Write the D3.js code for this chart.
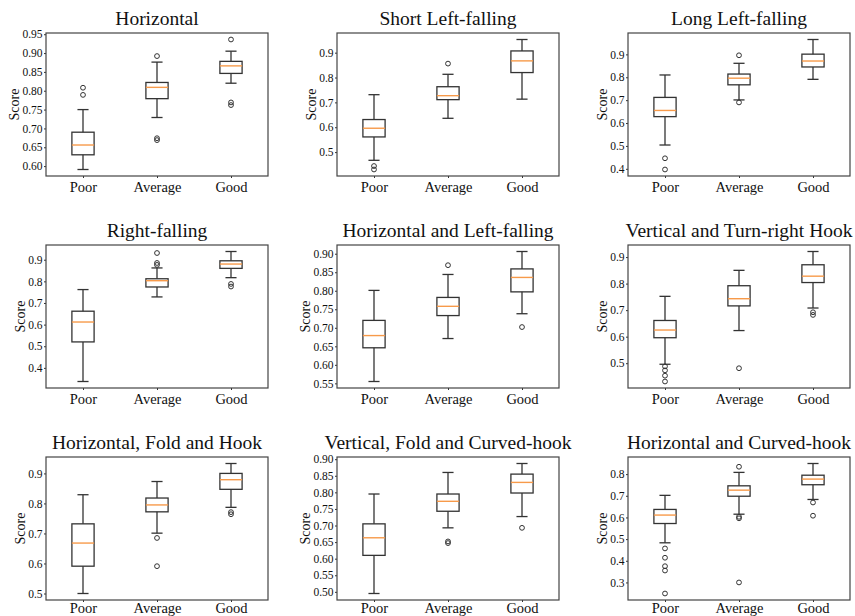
<!DOCTYPE html>
<html lang="en">
<head>
    <meta charset="UTF-8">
    <title>Stroke Score Boxplots</title>
    <script src="https://d3js.org/d3.v7.min.js"></script>
    <style>
        body { margin: 0; background: #fff; }
        svg text { font-family: "Liberation Serif", "Times New Roman", serif !important; fill: #111; }
    </style>
</head>
<body>
    <div id="chart"></div>

    <script>
        const categories = ["Poor", "Average", "Good"];

        const titles = [
            "Horizontal", "Short Left-falling", "Long Left-falling",
            "Right-falling", "Horizontal and Left-falling", "Vertical and Turn-right Hook",
            "Horizontal, Fold and Hook", "Vertical, Fold and Curved-hook", "Horizontal and Curved-hook"
        ];

        // one row per panel: [Poor, Average, Good]
        const whiskerHigh = [
            [0.750, 0.876, 0.905], [0.731, 0.813, 0.953], [0.810, 0.861, 0.965],
            [0.762, 0.862, 0.938], [0.801, 0.844, 0.906], [0.752, 0.850, 0.921],
            [0.829, 0.873, 0.933], [0.795, 0.860, 0.887], [0.702, 0.808, 0.849]
        ];
        const q3 = [
            [0.690, 0.822, 0.878], [0.631, 0.763, 0.907], [0.712, 0.814, 0.901],
            [0.662, 0.812, 0.895], [0.720, 0.782, 0.859], [0.661, 0.792, 0.871],
            [0.732, 0.818, 0.900], [0.705, 0.795, 0.855], [0.637, 0.746, 0.795]
        ];
        const median = [
            [0.656, 0.809, 0.866], [0.596, 0.727, 0.867], [0.655, 0.796, 0.871],
            [0.612, 0.803, 0.880], [0.679, 0.758, 0.836], [0.625, 0.743, 0.828],
            [0.668, 0.795, 0.879], [0.663, 0.773, 0.830], [0.611, 0.726, 0.777]
        ];
        const q1 = [
            [0.630, 0.779, 0.846], [0.561, 0.711, 0.820], [0.628, 0.767, 0.845],
            [0.520, 0.774, 0.860], [0.646, 0.733, 0.797], [0.596, 0.716, 0.804],
            [0.591, 0.772, 0.847], [0.610, 0.743, 0.798], [0.572, 0.698, 0.751]
        ];
        const whiskerLow = [
            [0.591, 0.729, 0.820], [0.467, 0.636, 0.713], [0.504, 0.701, 0.791],
            [0.337, 0.728, 0.817], [0.555, 0.671, 0.738], [0.496, 0.623, 0.708],
            [0.500, 0.701, 0.787], [0.495, 0.693, 0.727], [0.483, 0.615, 0.683]
        ];
        const outliers = [
            [[0.808, 0.789], [0.892, 0.674, 0.669], [0.936, 0.769, 0.762]],
            [[0.444, 0.430], [0.856], []],
            [[0.446, 0.397], [0.896, 0.690], []],
            [[], [0.931, 0.885, 0.876], [0.788, 0.776]],
            [[], [0.869], [0.702]],
            [[0.488, 0.473, 0.453, 0.431], [0.481], [0.692, 0.682]],
            [[], [0.685, 0.591], [0.771, 0.764]],
            [[], [0.652, 0.647], [0.693]],
            [[0.457, 0.414, 0.375, 0.355, 0.249], [0.834, 0.603, 0.596, 0.300], [0.669, 0.608]]
        ];

        const yTicks = [
            [0.60, 0.65, 0.70, 0.75, 0.80, 0.85, 0.90, 0.95],
            [0.5, 0.6, 0.7, 0.8, 0.9],
            [0.4, 0.5, 0.6, 0.7, 0.8, 0.9],
            [0.4, 0.5, 0.6, 0.7, 0.8, 0.9],
            [0.55, 0.60, 0.65, 0.70, 0.75, 0.80, 0.85, 0.90],
            [0.5, 0.6, 0.7, 0.8, 0.9],
            [0.5, 0.6, 0.7, 0.8, 0.9],
            [0.50, 0.55, 0.60, 0.65, 0.70, 0.75, 0.80, 0.85, 0.90],
            [0.3, 0.4, 0.5, 0.6, 0.7, 0.8]
        ];

        const serif = "'Liberation Serif', 'Times New Roman', serif";

        const svg = d3.select("#chart")
                      .append("svg")
                      .attr("width", 855)
                      .attr("height", 616)
                      .attr("font-family", serif);

        // panel frames
        const colX = [46, 337, 628];
        const rowY = [33, 245, 457];
        const width = 222;
        const height = 143;

        titles.forEach((title, p) => {
            const row = Math.floor(p / 3);
            const g = svg.append("g")
                         .attr("transform", `translate(${colX[p % 3]}, ${rowY[row]})`);

            // matplotlib-like 5% margin around all values
            const all = [...whiskerLow[p], ...whiskerHigh[p], ...outliers[p].flat()];
            const lo = d3.min(all), hi = d3.max(all);
            const pad = (hi - lo) * 0.05;

            const x = d3.scalePoint()
                        .domain(categories)
                        .range([0, width])
                        .padding(0.5);

            const y = d3.scaleLinear()
                        .domain([lo - pad, hi + pad])
                        .range([height, 0]);

            const boxW = x.step() * 0.3;
            const decimals = yTicks[p].some(t => Math.abs(t * 10 - Math.round(t * 10)) > 1e-6) ? 2 : 1;

            // y axis
            const yAxis = g.append("g")
                           .call(d3.axisLeft(y)
                                   .tickValues(yTicks[p])
                                   .tickFormat(d3.format(`.${decimals}f`))
                                   .tickSize(2)
                                   .tickPadding(1.5))
                           .attr("font-family", serif)
                           .attr("font-size", 11.5);
            yAxis.select(".domain").remove();
            yAxis.selectAll("line").attr("stroke", "#333");
            yAxis.selectAll("text").attr("fill", "#111");

            // x axis (bottom row sits a little tighter in the source image)
            const xAxis = g.append("g")
                           .attr("transform", `translate(0, ${height})`)
                           .call(d3.axisBottom(x)
                                   .tickSize(2)
                                   .tickPadding(row === 2 ? 0.5 : 3.5))
                           .attr("font-family", serif)
                           .attr("font-size", 14.5);
            xAxis.select(".domain").remove();
            xAxis.selectAll("line").attr("stroke", "#333");
            xAxis.selectAll("text").attr("fill", "#111");

            // frame
            g.append("rect")
             .attr("width", width)
             .attr("height", height)
             .attr("fill", "none")
             .attr("stroke", "#444")
             .attr("stroke-width", 1.2);

            // y label, placed left of tick labels
            const bb = yAxis.node().getBBox();
            g.append("text")
             .attr("transform", `translate(${bb.x - 3}, ${height / 2}) rotate(-90)`)
             .attr("text-anchor", "middle")
             .attr("font-size", 14)
             .text("Score");

            // title
            g.append("text")
             .attr("x", width / 2)
             .attr("y", -8)
             .attr("text-anchor", "middle")
             .attr("font-size", 19.5)
             .text(title);

            const boxes = g.selectAll(".box")
                           .data(categories.map((c, i) => ({
                               cat: c,
                               lo: whiskerLow[p][i],
                               q1: q1[p][i],
                               med: median[p][i],
                               q3: q3[p][i],
                               hi: whiskerHigh[p][i],
                               out: outliers[p][i]
                           })))
                           .enter()
                           .append("g")
                           .attr("class", "box")
                           .attr("transform", d => `translate(${x(d.cat)}, 0)`);

            // whiskers
            boxes.append("line")
                 .attr("y1", d => y(d.hi)).attr("y2", d => y(d.q3))
                 .attr("stroke", "#333").attr("stroke-width", 1.3);
            boxes.append("line")
                 .attr("y1", d => y(d.q1)).attr("y2", d => y(d.lo))
                 .attr("stroke", "#333").attr("stroke-width", 1.3);

            // caps
            boxes.append("line")
                 .attr("x1", -boxW / 4).attr("x2", boxW / 4)
                 .attr("y1", d => y(d.hi)).attr("y2", d => y(d.hi))
                 .attr("stroke", "#333").attr("stroke-width", 1.3);
            boxes.append("line")
                 .attr("x1", -boxW / 4).attr("x2", boxW / 4)
                 .attr("y1", d => y(d.lo)).attr("y2", d => y(d.lo))
                 .attr("stroke", "#333").attr("stroke-width", 1.3);

            // box
            boxes.append("rect")
                 .attr("x", -boxW / 2)
                 .attr("width", boxW)
                 .attr("y", d => y(d.q3))
                 .attr("height", d => y(d.q1) - y(d.q3))
                 .attr("fill", "none")
                 .attr("stroke", "#333")
                 .attr("stroke-width", 1.3);

            // median
            boxes.append("line")
                 .attr("x1", -boxW / 2).attr("x2", boxW / 2)
                 .attr("y1", d => y(d.med)).attr("y2", d => y(d.med))
                 .attr("stroke", "#f79a4a").attr("stroke-width", 1.4);

            // fliers
            boxes.selectAll("circle")
                 .data(d => d.out)
                 .enter()
                 .append("circle")
                 .attr("cy", d => y(d))
                 .attr("r", 2.4)
                 .attr("fill", "none")
                 .attr("stroke", "#333")
                 .attr("stroke-width", 1);
        });
    </script>
</body>
</html>
